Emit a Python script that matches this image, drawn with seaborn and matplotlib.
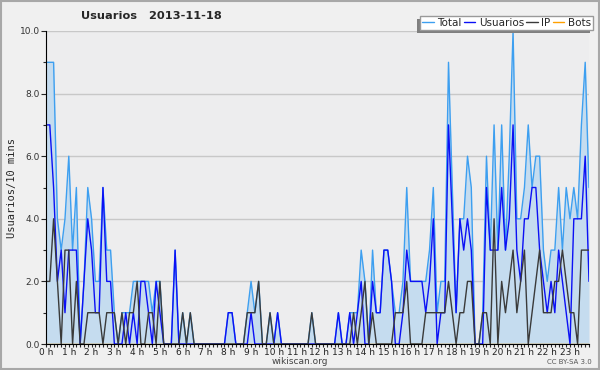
import numpy as np
import pandas as pd
import matplotlib
import seaborn as sns

matplotlib.use("Agg")
from matplotlib import pyplot as plt
from matplotlib.lines import Line2D
from matplotlib.patches import Rectangle

# one value every 10 minutes, 2013-11-18 (144 points)
total = [
    9, 9, 9, 4, 3, 4, 6, 3, 5, 0, 2, 5,
    4, 2, 2, 5, 3, 3, 1, 0, 1, 1, 1, 2,
    2, 2, 2, 2, 1, 2, 2, 0, 0, 0, 3, 0,
    1, 0, 1, 0, 0, 0, 0, 0, 0, 0, 0, 0,
    1, 1, 0, 0, 0, 1, 2, 1, 2, 0, 0, 1,
    0, 1, 0, 0, 0, 0, 0, 0, 0, 0, 1, 0,
    0, 0, 0, 0, 0, 1, 0, 0, 1, 1, 1, 3,
    2, 0, 3, 1, 1, 3, 3, 2, 1, 1, 2, 5,
    2, 2, 2, 2, 2, 3, 5, 1, 2, 2, 9, 5,
    1, 4, 4, 6, 5, 0, 0, 1, 6, 3, 7, 3,
    7, 3, 6, 10, 4, 4, 5, 7, 5, 6, 6, 3,
    2, 3, 3, 5, 3, 5, 4, 5, 4, 7, 9, 5,
]
usuarios = [
    7, 7, 5, 2, 3, 1, 3, 3, 3, 0, 2, 4,
    3, 1, 1, 5, 2, 2, 0, 0, 0, 1, 0, 1,
    0, 2, 2, 1, 0, 2, 1, 0, 0, 0, 3, 0,
    0, 0, 0, 0, 0, 0, 0, 0, 0, 0, 0, 0,
    1, 1, 0, 0, 0, 0, 1, 0, 0, 0, 0, 0,
    0, 1, 0, 0, 0, 0, 0, 0, 0, 0, 0, 0,
    0, 0, 0, 0, 0, 1, 0, 0, 1, 0, 1, 2,
    0, 0, 2, 1, 1, 3, 3, 2, 0, 0, 1, 3,
    2, 2, 2, 2, 1, 2, 4, 0, 1, 1, 7, 4,
    1, 4, 3, 4, 3, 0, 0, 0, 5, 3, 3, 3,
    5, 3, 4, 7, 3, 2, 4, 4, 5, 5, 3, 2,
    1, 2, 1, 3, 2, 1, 0, 4, 4, 4, 6, 2,
]
ip = [
    2, 2, 4, 2, 0, 3, 3, 0, 2, 0, 0, 1,
    1, 1, 1, 0, 1, 1, 1, 0, 1, 0, 1, 1,
    2, 0, 0, 1, 1, 0, 2, 0, 0, 0, 0, 0,
    1, 0, 1, 0, 0, 0, 0, 0, 0, 0, 0, 0,
    0, 0, 0, 0, 0, 1, 1, 1, 2, 0, 0, 1,
    0, 0, 0, 0, 0, 0, 0, 0, 0, 0, 1, 0,
    0, 0, 0, 0, 0, 0, 0, 0, 0, 1, 0, 1,
    2, 0, 1, 0, 0, 0, 0, 0, 1, 1, 1, 2,
    0, 0, 0, 0, 1, 1, 1, 1, 1, 1, 2, 1,
    0, 1, 1, 2, 2, 0, 0, 1, 1, 0, 4, 0,
    2, 1, 2, 3, 1, 2, 3, 0, 1, 2, 3, 1,
    1, 1, 2, 2, 3, 2, 1, 1, 0, 3, 3, 3,
]
bots = [
    0, 0, 0, 0, 0, 0, 0, 0, 0, 0, 0, 0,
    0, 0, 0, 0, 0, 0, 0, 0, 0, 0, 0, 0,
    0, 0, 0, 0, 0, 0, 0, 0, 0, 0, 0, 0,
    0, 0, 0, 0, 0, 0, 0, 0, 0, 0, 0, 0,
    0, 0, 0, 0, 0, 0, 0, 0, 0, 0, 0, 0,
    0, 0, 0, 0, 0, 0, 0, 0, 0, 0, 0, 0,
    0, 0, 0, 0, 0, 0, 0, 0, 0, 0, 0, 0,
    0, 0, 0, 0, 0, 0, 0, 0, 0, 0, 0, 0,
    0, 0, 0, 0, 0, 0, 0, 0, 0, 0, 0, 0,
    0, 0, 0, 0, 0, 0, 0, 0, 0, 0, 0, 0,
    0, 0, 0, 0, 0, 0, 0, 0, 0, 0, 0, 0,
    0, 0, 0, 0, 0, 0, 0, 0, 0, 0, 0, 0,
]
hour_labels = [
    "0 h", "1 h", "2 h", "3 h", "4 h", "5 h", "6 h", "7 h", "8 h", "9 h", "10 h", "11 h",
    "12 h", "13 h", "14 h", "15 h", "16 h", "17 h", "18 h", "19 h", "20 h", "21 h", "22 h", "23 h",
]
y_ticks = [0, 2, 4, 6, 8, 10]

series = [
    ("Total", "#3d9ff0"),
    ("Usuarios", "#0b10f5"),
    ("IP", "#3a3a3a"),
    ("Bots", "#ffa000"),
]

df = pd.DataFrame({"idx": np.arange(len(total)), "Total": total, "Usuarios": usuarios, "IP": ip, "Bots": bots})

sns.set_style("ticks")
plt.rcParams["font.family"] = ["DejaVu Sans"]

fig, ax = plt.subplots(figsize=(6, 3.7), dpi=100)
fig.patch.set_facecolor("#f0f0f0")
fig.subplots_adjust(left=46 / 600, right=589 / 600, bottom=1 - 344 / 370, top=1 - 31 / 370)
ax.set_facecolor("#ededee")

ax.fill_between(df["idx"], df["Total"], color="#c5dcef", lw=0, zorder=1)
for z, (name, color) in zip([2.2, 2.3, 2.4, 1.5], series):
    sns.lineplot(data=df, x="idx", y=name, color=color, lw=1.0, ax=ax, zorder=z, legend=False)

ax.set_xlim(0, len(total) - 1)
ax.set_ylim(0, 10)
ax.set_xticks(np.arange(0, 144, 6))
ax.set_xticklabels(hour_labels, fontsize=6.5, color="#222222")
ax.set_xticks(np.arange(0, 144, 1), minor=True)
ax.set_yticks(y_ticks)
ax.set_yticklabels([f"{v:.1f}" for v in y_ticks], fontsize=6.5, color="#333333")
ax.set_yticks(np.arange(0, 11, 1), minor=True)
ax.tick_params(axis="x", which="major", length=2.2, width=0.8, pad=0.5)
ax.tick_params(axis="x", which="minor", length=2.0, width=0.8)
ax.tick_params(axis="y", which="major", length=3.6, width=0.8, pad=1)
ax.tick_params(axis="y", which="minor", length=2.2, width=0.8)
ax.yaxis.grid(True, which="major", color="#c8c8c8", lw=1)
ax.set_axisbelow(True)
sns.despine(ax=ax, top=True, right=True)
ax.spines["left"].set_color("black")
ax.spines["bottom"].set_color("black")
ax.set_xlabel("")
ax.set_ylabel("Usuarios/10 mins", fontsize=7.5, family="DejaVu Sans Mono", labelpad=2)

fig.text(151 / 600, 1 - 16 / 370, "Usuarios   2013-11-18", ha="center", va="center",
         fontsize=8.2, fontweight="bold")
fig.text(300 / 600, 1 - 362 / 370, "wikiscan.org", ha="center", va="center", fontsize=6.5, color="#444444")
fig.text(592 / 600, 1 - 362 / 370, "CC BY-SA 3.0", ha="right", va="center", fontsize=5, color="#555555")

handles = [Line2D([], [], color=c, lw=1.0) for _, c in series]
leg = fig.legend(handles, [n for n, _ in series], ncol=4, loc="upper right",
                 bbox_to_anchor=(593 / 600, 1 - 16 / 370), fontsize=7.5, frameon=True,
                 fancybox=False, handlelength=1.1, handletextpad=0.35, columnspacing=0.2,
                 borderpad=0.2, borderaxespad=0)
leg.get_frame().set_facecolor("white")
leg.get_frame().set_edgecolor("#9a9a9a")
leg.get_frame().set_linewidth(1)
leg.get_frame().set_alpha(1)
leg.set_zorder(10)

fig.canvas.draw()
bb = leg.get_window_extent().transformed(fig.transFigure.inverted())
fig.patches.append(Rectangle((bb.x0 - 3 / 600, bb.y0 - 3 / 370), bb.width, bb.height,
                             transform=fig.transFigure, facecolor="#7f7f7f", edgecolor="none", zorder=9))
fig.patches.append(Rectangle((0.0015, 0.002), 0.996, 0.996, transform=fig.transFigure,
                             facecolor="none", edgecolor="#a8a8a8", lw=1.5, zorder=20))

fig.savefig("out.png", dpi=100, facecolor=fig.get_facecolor())
